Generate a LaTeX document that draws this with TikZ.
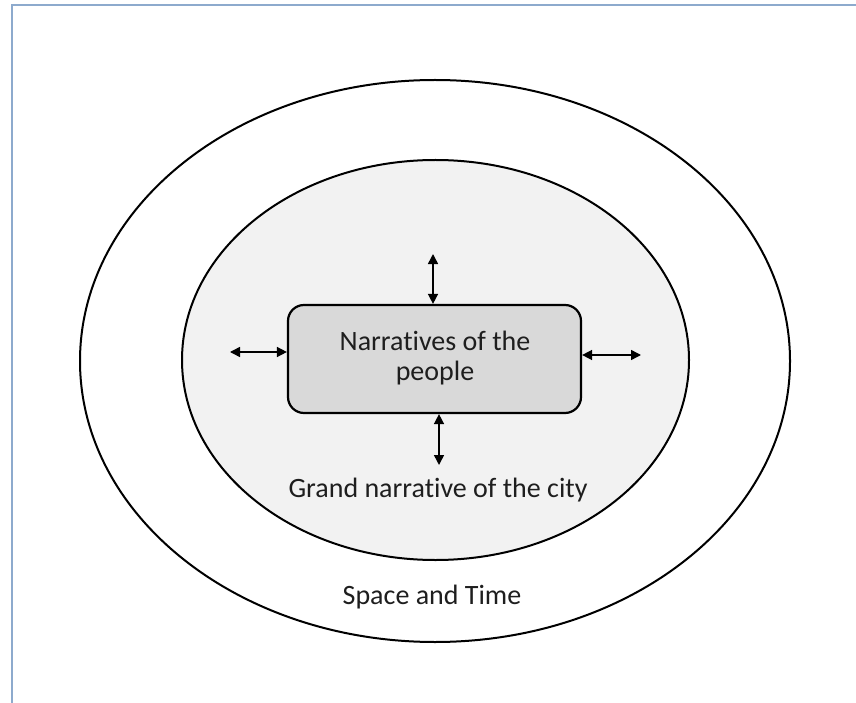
\documentclass[tikz,border=0pt]{standalone}
\usepackage{fontspec}
\setmainfont{Carlito}[Ligatures=NoCommon]
\usetikzlibrary{arrows.meta,shapes.geometric}
\definecolor{framec}{RGB}{141,170,205}
\definecolor{innerfill}{RGB}{242,242,242}
\definecolor{boxfill}{RGB}{217,217,217}
\definecolor{textc}{RGB}{30,30,30}
\tikzset{
  dblarrow/.style={{Triangle[length=10pt,width=10pt]}-{Triangle[length=10pt,width=10pt]}, line width=1.5pt, black},
  lbl/.style={text=textc, font=\fontsize{28}{30}\selectfont, align=center, inner sep=0pt}
}
\begin{document}
\begin{tikzpicture}[x=1pt,y=-1pt]
\useasboundingbox (0,0) rectangle (856,703);
\fill[white] (0,0) rectangle (856,703);
\draw[framec, line width=2.5pt] (12,720) -- (12,5) -- (870,5);
\node[draw=black, line width=2pt, ellipse, minimum width=710, minimum height=562, inner sep=0pt] (outer) at (435,361) {};
\node[draw=black, line width=2pt, fill=innerfill, ellipse, minimum width=507, minimum height=400, inner sep=0pt] (inner) at (435.5,360) {};
\node[draw=black, line width=2.2pt, fill=boxfill, rounded corners=16pt, minimum width=293, minimum height=108, inner sep=0pt] (box) at (434.5,359) {};
\node[lbl] (boxtxt) at (435,358) {Narratives of the\\people};
\node[lbl] (grand) at (438,490) {Grand narrative of the city};
\node[lbl] (space) at (432,597) {Space and Time};
\coordinate (t1) at (433,254);
\coordinate (b1) at (439,465);
\coordinate (l1) at (230,352);
\coordinate (r1) at (641,355);
\draw[dblarrow] (t1) -- (box.north -| t1);
\draw[dblarrow] (box.south -| b1) -- (b1);
\draw[dblarrow] (l1) -- (box.west |- l1);
\draw[dblarrow] (box.east |- r1) -- (r1);
\end{tikzpicture}
\end{document}
